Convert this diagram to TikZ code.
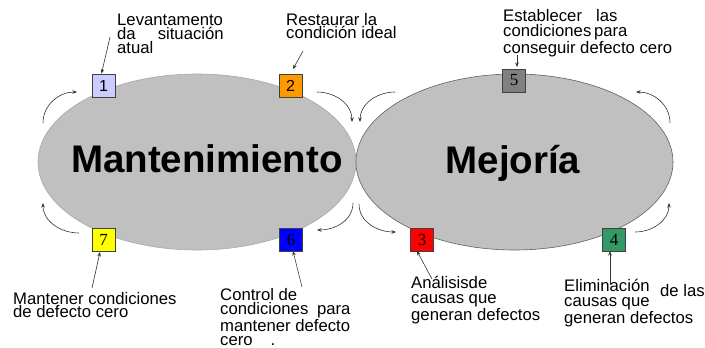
\documentclass[tikz,border=0pt]{standalone}
\usepackage{fontspec}
\setmainfont{Liberation Sans}
\newfontfamily\numserif{Liberation Serif}
\usetikzlibrary{arrows.meta,shapes.geometric}
\definecolor{ellfill}{HTML}{C0C0C0}
\definecolor{ellleft}{HTML}{A8A8A8}
\definecolor{ellright}{HTML}{606060}
\definecolor{boxline}{HTML}{404040}
\definecolor{arrline}{HTML}{333333}
\definecolor{cA}{HTML}{CCCCFF}
\definecolor{cB}{HTML}{FF9900}
\definecolor{cC}{HTML}{FF0000}
\definecolor{cD}{HTML}{339966}
\definecolor{cE}{HTML}{808080}
\definecolor{cF}{HTML}{0000FF}
\definecolor{cG}{HTML}{FFFF00}
\tikzset{
  ell/.style={fill=ellfill, line width=0.6pt},
  numbox/.style={draw=boxline, line width=0.9pt, minimum width=23pt, minimum height=23pt, inner sep=0pt, font=\numserif\fontsize{17}{17}\selectfont},
  numboxs/.style={numbox, font=\fontsize{16}{16}\selectfont},
  lbl/.style={anchor=base west, align=left, inner sep=0pt, font=\fontsize{16.7}{14}\selectfont},
  big/.style={inner sep=0pt, anchor=base, font=\bfseries\fontsize{38.5}{40}\selectfont},
  cyc/.style={draw=arrline, line width=0.6pt, -{Stealth[length=4.5pt,width=3.5pt]}},
  ptr/.style={draw=arrline, line width=0.6pt, -{Stealth[length=4.5pt,width=3.5pt]}}
}
\begin{document}
\begin{tikzpicture}[x=1pt,y=-1pt]
\useasboundingbox (0,0) rectangle (705,348);
% ellipses
\draw[ell, draw=ellleft] (197,162) ellipse [x radius=159, y radius=88];
\draw[ell, draw=ellright] (514.5,162) ellipse [x radius=158.5, y radius=88];
\node[big] (mant) at (207,172) {Mantenimiento};
\node[big] (mejo) at (513,173) {Mejoría};
% boxes
\node[numboxs, fill=cA] (b1) at (103.5,85.5) {1};
\node[numboxs, fill=cB] (b2) at (290.5,85.5) {2};
\node[numbox, fill=cE] (b5) at (514,80.5) {5};
\node[numbox, fill=cG] (b7) at (103.5,240) {7};
\node[numbox, fill=cF] (b6) at (291,240) {6};
\node[numbox, fill=cC] (b3) at (422,240) {3};
\node[numbox, fill=cD] (b4) at (614,240) {4};
% labels (anchor = baseline of last line)
\node[lbl] (t1) at (117,53) {Levantamento\\da\hspace{22pt}situación\\atual};
\node[lbl, font=\fontsize{16.7}{13}\selectfont] (t2) at (286,38) {Restaurar la\\condición ideal};
\node[lbl, font=\fontsize{16.7}{15}\selectfont] (t5) at (503,53) {Establecer\hspace{14pt}las\\condiciones\hspace{-2pt} para\\conseguir defecto cero};
\node[lbl, font=\fontsize{16.7}{13}\selectfont] (t7) at (13,317) {Mantener condiciones\\de defecto cero};
\node[lbl] (t6) at (220,345) {Control de\\condiciones\hspace{4pt} para\\mantener defecto\\cero\hspace{18pt}.};
\node[lbl, font=\fontsize{16.7}{14.5}\selectfont] (t3) at (411,320) {Análisisde\\causas que\\generan defectos};
\node[lbl, font=\fontsize{16.7}{15}\selectfont] (t4) at (564,323) {Eliminación\\causas que\\generan defectos};
\node[lbl] (t4b) at (660,296) {de las};
% pointer arrows
\coordinate (p1) at (110,37);
\coordinate (p2s) at (303,51);
\coordinate (p2e) at (293,69);
\coordinate (p5s) at (517,55);
\coordinate (p5e) at (517,67);
\coordinate (p7s) at (92,288);
\coordinate (p7e) at (100,252);
\coordinate (p6s) at (302,287);
\coordinate (p6e) at (293,251);
\coordinate (p3s) at (432,279);
\coordinate (p3e) at (417,251);
\coordinate (p4s) at (610,285);
\coordinate (p4e) at (610,251);
\draw[ptr] (p1) -- ([xshift=-2pt]b1.north);
\draw[ptr] (p2s) -- (p2e);
\draw[ptr] (p5s) -- (p5e);
\draw[ptr] (p7s) -- (p7e);
\draw[ptr] (p6s) -- (p6e);
\draw[ptr] (p3s) -- (p3e);
\draw[ptr] (p4s) -- (p4e);
% cycle arrows, left ellipse
\coordinate (la1) at (43,123);  \coordinate (la2) at (77,92);
\coordinate (lb1) at (79,233);  \coordinate (lb2) at (43,203);
\coordinate (lc1) at (317,92);  \coordinate (lc2) at (352,122);
\coordinate (ld1) at (353,203); \coordinate (ld2) at (317,230);
\draw[cyc] (la1) to[out=90,in=180] (la2);
\draw[cyc] (lb1) to[out=180,in=-90] (lb2);
\draw[cyc] (lc1) to[out=0,in=90] (lc2);
\draw[cyc] (ld1) to[out=-90,in=0] (ld2);
% cycle arrows, right ellipse
\coordinate (ra1) at (395,92);  \coordinate (ra2) at (360,122);
\coordinate (rb1) at (359,204); \coordinate (rb2) at (396,232);
\coordinate (rc1) at (635,232); \coordinate (rc2) at (669,203);
\coordinate (rd1) at (670,123); \coordinate (rd2) at (636,92);
\draw[cyc] (ra1) to[out=180,in=90] (ra2);
\draw[cyc] (rb1) to[out=-90,in=180] (rb2);
\draw[cyc] (rc1) to[out=0,in=-90] (rc2);
\draw[cyc] (rd1) to[out=90,in=0] (rd2);
\end{tikzpicture}
\end{document}
